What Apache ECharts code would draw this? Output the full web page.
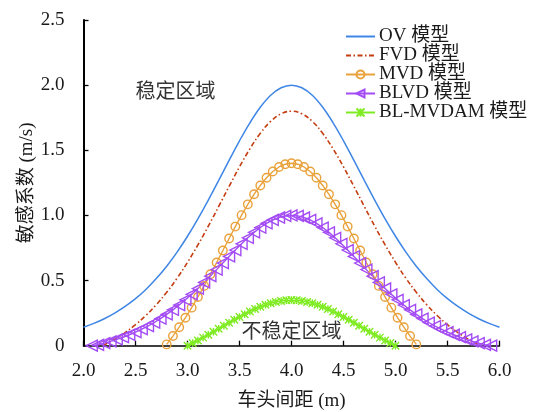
<!DOCTYPE html>
<html>
<head>
<meta charset="utf-8">
<script src="https://cdn.jsdelivr.net/npm/echarts@6/dist/echarts.min.js"></script>
<style>
  html, body { margin: 0; padding: 0; background: #fff; }
  #chart { width: 535px; height: 412px; }
</style>
</head>
<body>
<div id="chart"></div>
<script>
// Headway (m) grids and sensitivity values (m/s) for each model's neutral-stability curve
const ovH = [2.0,2.1,2.2,2.3,2.4,2.5,2.6,2.7,2.8,2.9,3.0,3.1,3.2,3.3,3.4,3.5,3.6,3.7,3.8,3.9,4.0,
             4.1,4.2,4.3,4.4,4.5,4.6,4.7,4.8,4.9,5.0,5.1,5.2,5.3,5.4,5.5,5.6,5.7,5.8,5.9,6.0];
const ovVals = [0.141,0.171,0.207,0.250,0.301,0.361,0.432,0.515,0.610,0.718,0.840,0.974,1.118,1.269,1.423,1.573,1.711,1.830,1.922,1.980,2.000,
                1.980,1.922,1.830,1.711,1.573,1.423,1.269,1.118,0.974,0.840,0.718,0.610,0.515,0.432,0.361,0.301,0.250,0.207,0.171,0.141];

const fvdH = [2.185,2.2,2.3,2.4,2.5,2.6,2.7,2.8,2.9,3.0,3.1,3.2,3.3,3.4,3.5,3.6,3.7,3.8,3.9,4.0,
              4.1,4.2,4.3,4.4,4.5,4.6,4.7,4.8,4.9,5.0,5.1,5.2,5.3,5.4,5.5,5.6,5.7,5.8,5.815];
const fvdVals = [0,0.007,0.050,0.101,0.161,0.232,0.315,0.410,0.518,0.640,0.774,0.918,1.069,1.223,1.373,1.511,1.630,1.722,1.780,1.800,
                 1.780,1.722,1.630,1.511,1.373,1.223,1.069,0.918,0.774,0.640,0.518,0.410,0.315,0.232,0.161,0.101,0.050,0.007,0];

const mvdH = [2.80,2.86,2.92,2.98,3.04,3.10,3.16,3.22,3.28,3.34,3.40,3.46,3.52,3.58,3.64,3.70,3.76,3.82,3.88,3.94,4.00,
              4.06,4.12,4.18,4.24,4.30,4.36,4.42,4.48,4.54,4.60,4.66,4.72,4.78,4.84,4.90,4.96,5.02,5.08,5.14,5.20];
const mvdVals = [0.010,0.074,0.142,0.215,0.292,0.374,0.459,0.548,0.639,0.731,0.823,0.914,1.002,1.085,1.162,1.230,1.289,1.337,1.372,1.393,1.400,
                 1.393,1.372,1.337,1.289,1.230,1.162,1.085,1.002,0.914,0.823,0.731,0.639,0.548,0.459,0.374,0.292,0.215,0.142,0.074,0.010];

const blvdH = [2.08,2.14,2.20,2.26,2.32,2.38,2.44,2.50,2.56,2.62,2.68,2.74,2.80,2.86,2.92,2.98,3.04,3.10,3.16,3.22,3.28,3.34,3.40,
               3.46,3.52,3.58,3.64,3.70,3.76,3.82,3.88,3.94,4.00,4.06,4.12,4.18,4.24,4.30,4.36,4.42,4.48,4.54,4.60,4.66,
               4.72,4.78,4.84,4.90,4.96,5.02,5.08,5.14,5.20,5.26,5.32,5.38,5.44,5.50,5.56,5.62,5.68,5.74,5.80,5.86,5.92];
const blvdVals = [0,0.007,0.020,0.033,0.048,0.065,0.084,0.104,0.127,0.151,0.178,0.208,0.240,0.275,0.312,0.352,0.394,0.439,0.486,0.534,0.584,0.634,0.685,
                  0.734,0.782,0.828,0.870,0.907,0.939,0.965,0.984,0.996,1.000,0.996,0.984,0.965,0.939,0.907,0.870,0.828,0.782,0.734,0.685,0.634,
                  0.584,0.534,0.486,0.439,0.394,0.352,0.312,0.275,0.240,0.208,0.178,0.151,0.127,0.104,0.084,0.065,0.048,0.033,0.020,0.007,0];

const bmH = [3.00,3.05,3.10,3.15,3.20,3.25,3.30,3.35,3.40,3.45,3.50,3.55,3.60,3.65,3.70,3.75,3.80,3.85,3.90,3.95,4.00,
             4.05,4.10,4.15,4.20,4.25,4.30,4.35,4.40,4.45,4.50,4.55,4.60,4.65,4.70,4.75,4.80,4.85,4.90,4.95,5.00];
const bmVals = [0,0.020,0.040,0.062,0.084,0.107,0.130,0.153,0.176,0.199,0.221,0.242,0.263,0.282,0.299,0.314,0.326,0.336,0.344,0.348,0.350,
                0.348,0.344,0.336,0.326,0.314,0.299,0.282,0.263,0.242,0.221,0.199,0.176,0.153,0.130,0.107,0.084,0.062,0.040,0.020,0];

const seriesNames = ['OV 模型', 'FVD 模型', 'MVD 模型', 'BLVD 模型', 'BL-MVDAM 模型'];
const xTicks = [2.0, 2.5, 3.0, 3.5, 4.0, 4.5, 5.0, 5.5, 6.0];
const yTicks = [0, 0.5, 1.0, 1.5, 2.0, 2.5];
const xTitle = '车头间距 (m)';
const yTitle = '敏感系数 (m/s)';
const stableText = '稳定区域';
const unstableText = '不稳定区域';

const FONT = "'Liberation Serif', 'Times New Roman', 'Noto Sans CJK SC', serif";
const TXT = '#1a1a1a';

function pairs(h, v) { return h.map((x, i) => [x, v[i]]); }

const chart = echarts.init(document.getElementById('chart'), null, { renderer: 'canvas' });

const xMark = 'path://M0,0L10,10M10,0L0,10M5,0L5,10';
const noMarker = { color: 'rgba(0,0,0,0)', borderColor: 'rgba(0,0,0,0)', borderWidth: 0 };

chart.setOption({
  animation: false,
  backgroundColor: '#ffffff',
  textStyle: { fontFamily: FONT },
  grid: { left: 83.5, right: 35.5, top: 20, bottom: 66.3, containLabel: false, outerBoundsMode: 'none' },
  legend: {
    orient: 'vertical',
    left: 340,
    top: 22,
    itemWidth: 29,
    itemHeight: 10,
    itemGap: 0,
    textStyle: { fontFamily: FONT, fontSize: 19, color: TXT, padding: [0, 0, 0, -1] },
    data: [
      { name: seriesNames[0], itemStyle: noMarker },
      { name: seriesNames[1], itemStyle: noMarker },
      seriesNames[2], seriesNames[3], seriesNames[4]
    ]
  },
  xAxis: {
    type: 'value',
    min: xTicks[0], max: xTicks[xTicks.length - 1], interval: 0.5,
    name: xTitle, nameLocation: 'middle', nameGap: 46, nameMoveOverlap: false,
    nameTextStyle: { fontFamily: FONT, fontSize: 19, color: TXT },
    axisLine: { lineStyle: { color: '#000', width: 1.6 } },
    axisTick: { inside: true, length: 5, lineStyle: { color: '#000', width: 1.3 } },
    axisLabel: { fontFamily: FONT, fontSize: 19, color: TXT, margin: 15.5,
                 formatter: v => v.toFixed(1) },
    splitLine: { show: false }
  },
  yAxis: {
    type: 'value',
    min: yTicks[0], max: yTicks[yTicks.length - 1], interval: 0.5,
    name: yTitle, nameLocation: 'middle', nameGap: 47, nameMoveOverlap: false,
    nameTextStyle: { fontFamily: FONT, fontSize: 19, color: TXT },
    axisLine: { show: true, lineStyle: { color: '#000', width: 2 } },
    axisTick: { show: true, inside: true, length: 5, lineStyle: { color: '#000', width: 1.3 } },
    axisLabel: { fontFamily: FONT, fontSize: 19, color: TXT, margin: 19,
                 formatter: v => (v === 0 ? '0' : v.toFixed(1)) },
    splitLine: { show: false }
  },
  series: [
    {
      name: seriesNames[0], type: 'line', data: pairs(ovH, ovVals),
      smooth: 0.4, showSymbol: false, symbol: 'none', clip: false,
      itemStyle: { color: '#3E86E6' },
      lineStyle: { color: '#3E86E6', width: 1.5 }
    },
    {
      name: seriesNames[1], type: 'line', data: pairs(fvdH, fvdVals),
      smooth: 0.4, showSymbol: false, symbol: 'none', clip: false,
      itemStyle: { color: '#C43D10' },
      lineStyle: { color: '#C43D10', width: 1.6, type: [5, 2.5, 1.5, 2.5] }
    },
    {
      name: seriesNames[2], type: 'line', data: pairs(mvdH, mvdVals),
      symbol: 'circle', symbolSize: 8.5, clip: false,
      itemStyle: { color: 'rgba(0,0,0,0)', borderColor: '#E9A23B', borderWidth: 1.4 },
      lineStyle: { color: '#E9A23B', width: 1.4 }
    },
    {
      name: seriesNames[3], type: 'line', data: pairs(blvdH, blvdVals),
      symbol: 'triangle', symbolRotate: 90, symbolSize: [11, 11], clip: false,
      itemStyle: { color: 'rgba(0,0,0,0)', borderColor: '#A34CF4', borderWidth: 1.4 },
      lineStyle: { color: '#A34CF4', width: 1.4 }
    },
    {
      name: seriesNames[4], type: 'line', data: pairs(bmH, bmVals),
      symbol: xMark, symbolSize: 7.5, clip: false,
      itemStyle: { color: 'rgba(0,0,0,0)', borderColor: '#7FEB22', borderWidth: 1.4 },
      lineStyle: { color: '#7FEB22', width: 1.4 }
    }
  ]
});

// Region labels placed in data coordinates
const pStable = chart.convertToPixel({ gridIndex: 0 }, [2.885, 1.945]);
const pUnstable = chart.convertToPixel({ gridIndex: 0 }, [4.0, 0.10]);
chart.setOption({
  graphic: [
    { type: 'text', x: pStable[0], y: pStable[1], z: 100,
      style: { text: stableText, font: "20px " + FONT, fill: '#333', align: 'center', verticalAlign: 'middle' } },
    { type: 'text', x: pUnstable[0], y: pUnstable[1], z: 100,
      style: { text: unstableText, font: "20px " + FONT, fill: '#333', align: 'center', verticalAlign: 'middle' } }
  ]
});
</script>
</body>
</html>
